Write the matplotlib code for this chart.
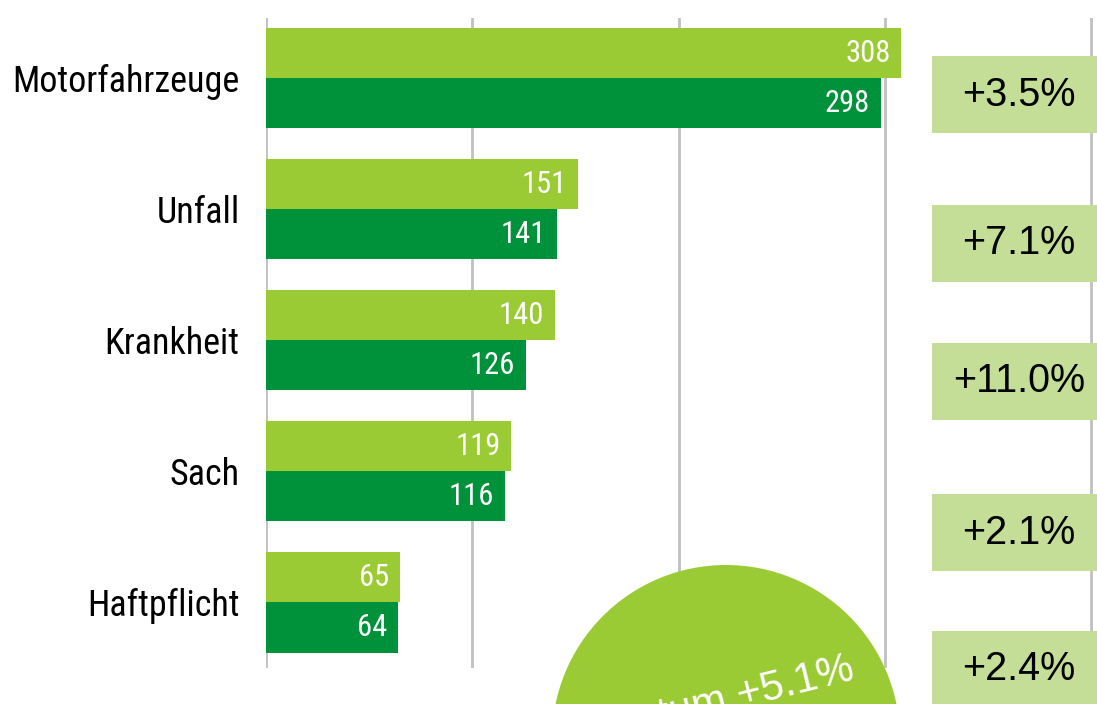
import matplotlib
matplotlib.use("Agg")
import matplotlib.pyplot as plt
from matplotlib.patches import Rectangle, Ellipse

# data
categories = ["Motorfahrzeuge", "Unfall", "Krankheit", "Sach", "Haftpflicht"]
values_new = [308, 151, 140, 119, 65]
values_old = [298, 141, 126, 116, 64]
growth_labels = ["+3.5%", "+7.1%", "+11.0%", "+2.1%", "+2.4%"]
total_label = "Wachstum +5.1%"

LIGHT = "#9BCB34"
DARK = "#00923A"
BOX = "#C4DE98"
GRID = "#C0C0C0"
NARROW = ["Roboto Condensed", "Arimo Narrow", "Archivo Narrow", "Liberation Sans", "DejaVu Sans"]
REGULAR = ["Liberation Sans", "DejaVu Sans"]

W, H = 1097, 704
fig = plt.figure(figsize=(W / 100, H / 100), dpi=100)

# axes placed in pixel terms
left, right, top, bottom = 266, W, 18, 668
ax = fig.add_axes([left / W, (H - bottom) / H, (right - left) / W, (bottom - top) / H])

h = 0.382
pos = list(range(len(categories)))
ax.barh([p - h / 2 for p in pos], values_new, height=h, color=LIGHT, zorder=3)
ax.barh([p + h / 2 for p in pos], values_old, height=h, color=DARK, zorder=3)

for p, vn, vo in zip(pos, values_new, values_old):
    ax.text(vn - 5.3, p - h / 2, str(vn), ha="right", va="center", color="white",
            fontsize=22, family=NARROW, zorder=4)
    ax.text(vo - 5.3, p + h / 2, str(vo), ha="right", va="center", color="white",
            fontsize=22, family=NARROW, zorder=4)

ax.set_xlim(0, (right - left) / 2.063)
ax.set_ylim(4.5, -0.46)
ax.set_xticks([0, 100, 200, 300, 400])
ax.set_xticklabels([])
ax.set_yticks(pos)
ax.set_yticklabels(categories, family=NARROW, fontsize=26)
ax.tick_params(axis="y", length=0, pad=19)
ax.tick_params(axis="x", length=0)
ax.grid(axis="x", color=GRID, linewidth=2, zorder=0)
for s in ax.spines.values():
    s.set_visible(False)

# growth boxes on the right (pixel layout)
box_tops = [56, 205, 343, 494, 631]
for t, lab in zip(box_tops, growth_labels):
    fig.add_artist(Rectangle((932 / W, (H - t - 77) / H), (W - 932) / W + 0.02, 77 / H,
                             transform=fig.transFigure, facecolor=BOX, edgecolor="none",
                             zorder=5))
    fig.text(1019 / W, (H - t - 38.5) / H, lab, ha="center", va="center",
             fontsize=28.5, family=REGULAR, color="black", zorder=6)

# big circle at the bottom
fig.add_artist(Ellipse((726 / W, (H - 739) / H), 2 * 174 / W, 2 * 174 / H,
                       transform=fig.transFigure, facecolor=LIGHT, edgecolor="none",
                       zorder=7))
fig.text(856 / W, (H - 679) / H, total_label, ha="right", va="baseline",
         rotation=14, rotation_mode="anchor", fontsize=30, family=REGULAR,
         color="white", zorder=8)

fig.savefig("out.png", dpi=100)
